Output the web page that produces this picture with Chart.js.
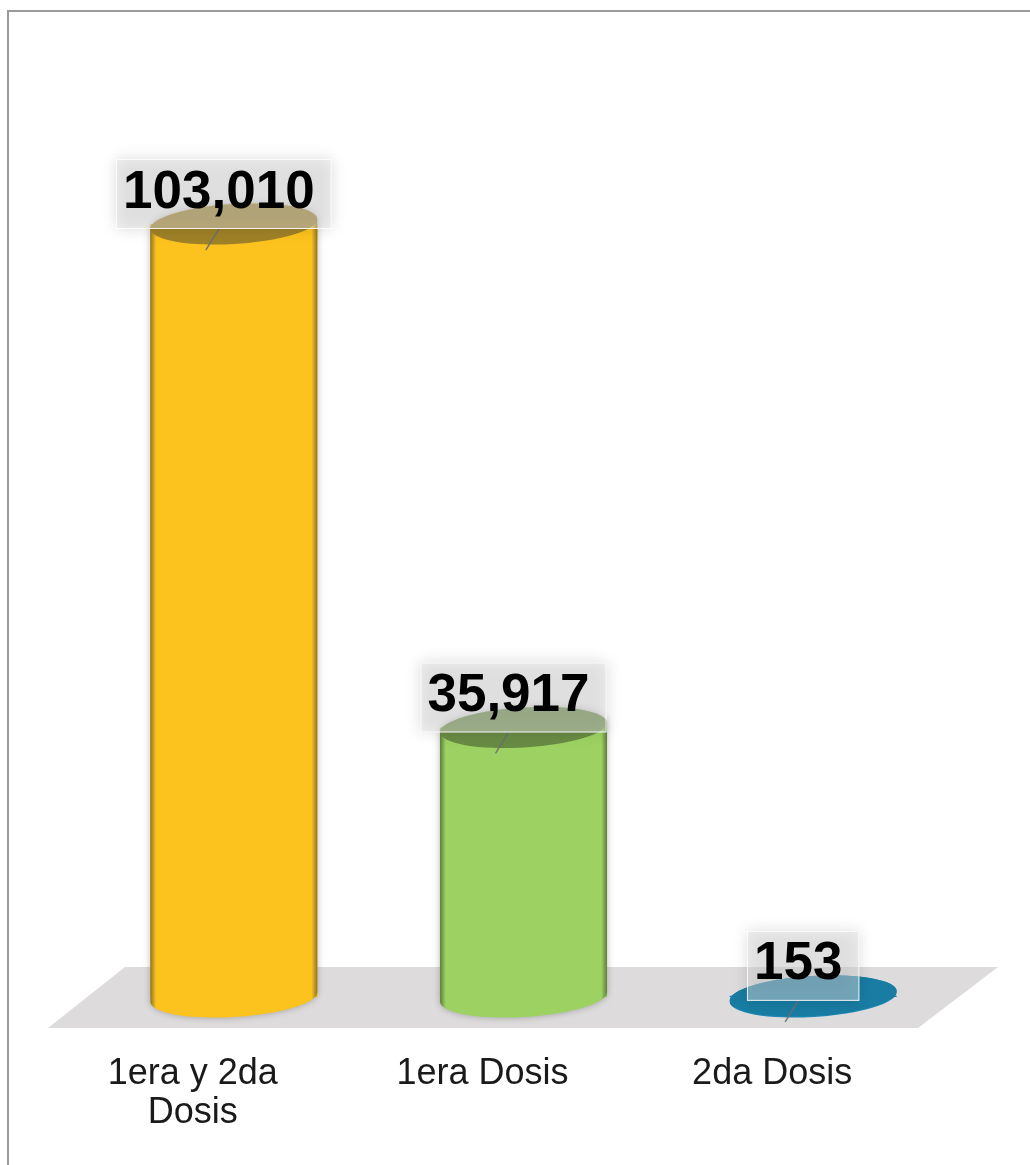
<!DOCTYPE html>
<html><head><meta charset="utf-8">
<script src="https://cdn.jsdelivr.net/npm/chart.js@4.4.1/dist/chart.umd.min.js"></script>
<style>html,body{margin:0;padding:0;background:#fff;overflow:hidden}canvas{display:block}</style>
</head><body>
<canvas id="c" width="1030" height="1165"></canvas>
<script>
// ---- data ----
const categories = [["1era y 2da", "Dosis"], "1era Dosis", "2da Dosis"];
const values = [103010, 35917, 153];
const valueLabels = ["103,010", "35,917", "153"];
// ---- palette ----
const bodyColors = ["#FCC31E", "#9DD262", "#1C89B4"];
const edgeColors = ["#8A7424", "#5B7C39", "#12607F"];
const topColors  = ["#9F8227", "#688B44", "#197CA2"];

const FONT = '"Liberation Sans", Arial, Helvetica, sans-serif';
const TILT = -0.06;

function ellPt(cx, cy, rx, ry, t) {
  return [cx + rx*Math.cos(t)*Math.cos(TILT) - ry*Math.sin(t)*Math.sin(TILT),
          cy + rx*Math.cos(t)*Math.sin(TILT) + ry*Math.sin(t)*Math.cos(TILT)];
}

const cylPlugin = {
  id: 'cyl',
  beforeDraw(chart) {
    const c = chart.ctx;
    c.save();
    c.fillStyle = '#fff';
    c.fillRect(0, 0, chart.width, chart.height);
    c.strokeStyle = '#9a9a9a';
    c.lineWidth = 2;
    c.beginPath();
    c.moveTo(8, chart.height); c.lineTo(8, 11); c.lineTo(chart.width, 11);
    c.stroke();
    c.restore();
  },
  beforeDatasetsDraw(chart) {
    const c = chart.ctx, a = chart.chartArea;
    c.save();
    c.fillStyle = '#DDDBDB';
    c.beginPath();
    c.moveTo(a.left + 36, a.bottom - 30);
    c.lineTo(a.right + 40, a.bottom - 30);
    c.lineTo(a.right - 40, a.bottom + 31);
    c.lineTo(a.left - 41, a.bottom + 31);
    c.closePath();
    c.fill();
    c.restore();
  },
  afterDatasetsDraw(chart) {
    const c = chart.ctx;
    const meta = chart.getDatasetMeta(0);
    meta.data.forEach((el, i) => {
      const p = el.getProps(['x', 'y', 'base', 'width'], true);
      const cx = p.x, rx = p.width / 2, ry = 20;
      const topY = p.y, baseY = p.base;
      const g = c.createLinearGradient(cx - rx, 0, cx + rx, 0);
      g.addColorStop(0, edgeColors[i]);
      g.addColorStop(0.035, bodyColors[i]);
      g.addColorStop(0.5, bodyColors[i]);
      g.addColorStop(0.965, bodyColors[i]);
      g.addColorStop(1, edgeColors[i]);
      c.save();
      if (baseY - topY > 4) {
        c.shadowColor = 'rgba(0,0,0,0.28)';
        c.shadowBlur = 7;
      }
      c.fillStyle = g;
      c.beginPath();
      const tl = ellPt(cx, topY, rx, ry, Math.PI);
      const bl = ellPt(cx, baseY, rx, ry, Math.PI);
      const tr = ellPt(cx, topY, rx, ry, 0);
      c.moveTo(tl[0], tl[1]);
      c.lineTo(bl[0], bl[1]);
      c.ellipse(cx, baseY, rx, ry, TILT, Math.PI, 0, true);
      c.lineTo(tr[0], tr[1]);
      c.ellipse(cx, topY, rx, ry, TILT, 0, -Math.PI, true);
      c.closePath();
      c.fill();
      c.restore();
      c.save();
      c.fillStyle = topColors[i];
      c.beginPath();
      c.ellipse(cx, topY, rx, ry, TILT, 0, Math.PI * 2);
      c.fill();
      c.restore();
    });
    meta.data.forEach((el, i) => {
      const p = el.getProps(['x', 'y'], true);
      const cx = p.x, cy = p.y;
      c.save();
      c.font = 'bold 53px ' + FONT;
      const tw = c.measureText(valueLabels[i]).width;
      const tx = cx - 15, ty = cy - 31;
      const bw = tw + 24, bx = cx - 10 - bw / 2;
      const by = ty - 34, bh = 70;
      c.strokeStyle = 'rgba(110,110,110,0.9)';
      c.lineWidth = 1.5;
      c.beginPath();
      c.moveTo(cx - 15, by + bh);
      c.lineTo(cx - 28, by + bh + 21);
      c.stroke();
      c.shadowColor = 'rgba(0,0,0,0.30)';
      c.shadowBlur = 14;
      c.fillStyle = 'rgba(226,226,226,0.45)';
      c.fillRect(bx, by, bw, bh);
      c.shadowColor = 'transparent';
      c.strokeStyle = 'rgba(255,255,255,0.85)';
      c.lineWidth = 1;
      c.strokeRect(bx + 0.5, by + 0.5, bw - 1, bh - 1);
      c.fillStyle = '#000';
      c.textAlign = 'center';
      c.textBaseline = 'middle';
      c.fillText(valueLabels[i], tx, ty);
      c.restore();
    });
  }
};

new Chart(document.getElementById('c').getContext('2d'), {
  type: 'bar',
  data: {
    labels: categories,
    datasets: [{
      data: values,
      backgroundColor: bodyColors,
      borderWidth: 0,
      barPercentage: 0.577,
      categoryPercentage: 1
    }]
  },
  options: {
    responsive: false,
    animation: false,
    events: [],
    devicePixelRatio: 1,
    layout: { padding: { left: 89, right: 72, top: 96.5, bottom: 32.5 } },
    plugins: { legend: { display: false }, tooltip: { enabled: false }, title: { display: false } },
    scales: {
      x: {
        grid: { display: false, drawTicks: false },
        border: { display: false },
        afterFit(scale) { scale.height = 135.5; },
        ticks: {
          padding: 57.5,
          labelOffset: -41,
          color: '#1a1a1a',
          autoSkip: false,
          maxRotation: 0,
          font: { family: FONT, size: 36, lineHeight: '39px' }
        }
      },
      y: { display: false, min: 0, max: 120000 }
    }
  },
  plugins: [cylPlugin]
});
</script>
</body></html>
